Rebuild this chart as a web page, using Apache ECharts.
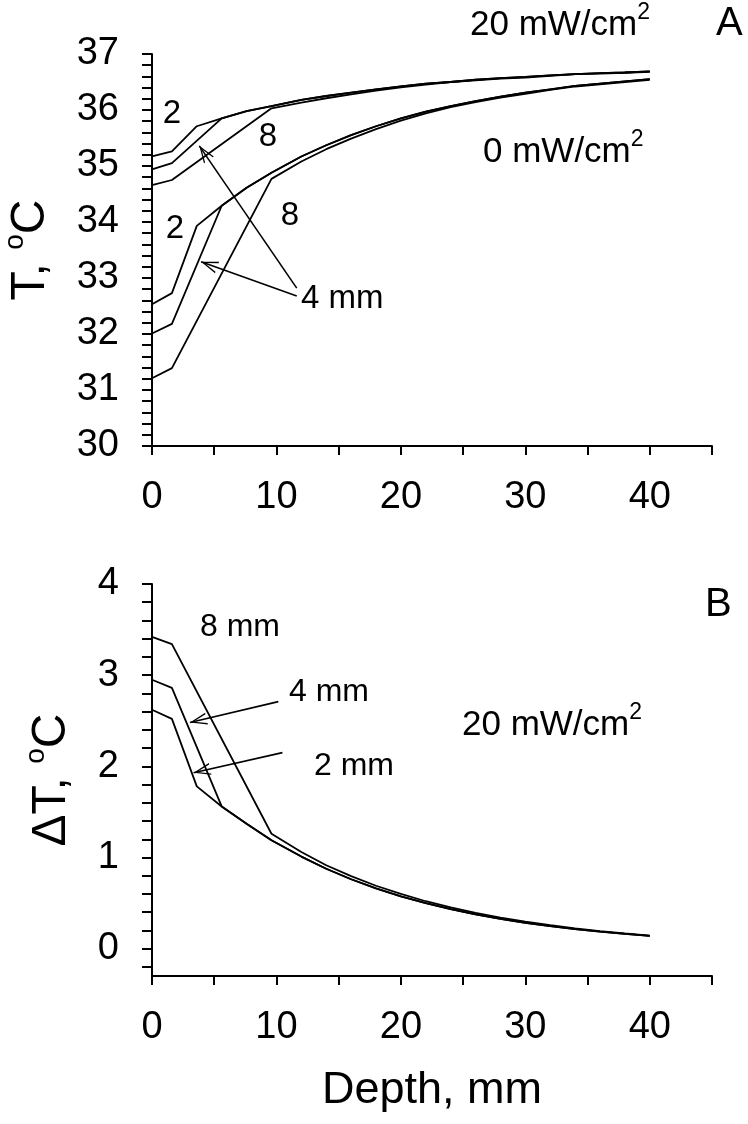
<!DOCTYPE html>
<html><head><meta charset="utf-8">
<script src="https://cdn.jsdelivr.net/npm/echarts@6/dist/echarts.min.js"></script>
<style>html,body{margin:0;padding:0;background:#fff}#c{width:748px;height:1124px}</style>
</head><body><div id="c"></div>
<script>
// depth grids (mm) for each fat-layer thickness
const depth2 = [0, 1.6, 3.6, 5.6, 7.6, 9.6, 12, 14, 16, 18, 20, 22, 24, 26, 28, 30, 32, 34, 36, 38, 40];
const depth4 = [0, 1.6, 5.6, 7.6, 9.6, 12, 14, 16, 18, 20, 22, 24, 26, 28, 30, 32, 34, 36, 38, 40];
const depth8 = [0, 1.6, 9.6, 12, 14, 16, 18, 20, 22, 24, 26, 28, 30, 32, 34, 36, 38, 40];

// Panel A: temperature, 0 mW/cm2
const t0_2mm = [32.53, 32.73, 33.93, 34.29, 34.61, 34.88, 35.17, 35.37, 35.55, 35.71, 35.85, 35.97, 36.07, 36.16, 36.24, 36.31, 36.37, 36.43, 36.47, 36.51, 36.55];
const t0_4mm = [32.01, 32.18, 34.29, 34.61, 34.88, 35.17, 35.37, 35.55, 35.71, 35.85, 35.97, 36.07, 36.16, 36.24, 36.31, 36.37, 36.43, 36.47, 36.51, 36.55];
const t0_8mm = [31.21, 31.39, 34.77, 35.08, 35.30, 35.49, 35.66, 35.81, 35.94, 36.05, 36.14, 36.22, 36.29, 36.36, 36.42, 36.46, 36.50, 36.54];
// Panel A: temperature, 20 mW/cm2
const t20_2mm = [35.17, 35.26, 35.71, 35.85, 35.98, 36.07, 36.18, 36.25, 36.31, 36.37, 36.42, 36.47, 36.50, 36.54, 36.57, 36.59, 36.62, 36.64, 36.66, 36.67, 36.69];
const t20_4mm = [34.94, 35.05, 35.85, 35.98, 36.07, 36.18, 36.25, 36.31, 36.37, 36.42, 36.47, 36.50, 36.54, 36.57, 36.59, 36.62, 36.64, 36.66, 36.67, 36.69];
const t20_8mm = [34.66, 34.75, 36.03, 36.13, 36.21, 36.28, 36.345, 36.405, 36.455, 36.50, 36.53, 36.56, 36.58, 36.61, 36.64, 36.65, 36.665, 36.68];
// Panel B: temperature rise
const dT_2mm = [2.62, 2.52, 1.78, 1.56, 1.37, 1.19, 1.01, 0.876, 0.761, 0.661, 0.574, 0.499, 0.433, 0.376, 0.327, 0.284, 0.247, 0.214, 0.186, 0.162, 0.14];
const dT_4mm = [2.95, 2.86, 1.56, 1.37, 1.19, 1.01, 0.876, 0.761, 0.661, 0.574, 0.499, 0.433, 0.376, 0.327, 0.284, 0.247, 0.214, 0.186, 0.162, 0.14];
const dT_8mm = [3.42, 3.34, 1.26, 1.06, 0.915, 0.795, 0.69, 0.60, 0.52, 0.452, 0.392, 0.34, 0.295, 0.257, 0.222, 0.193, 0.167, 0.144];

// tick labels
const xLabels = [0, 10, 20, 30, 40];
const xTicks = [0, 5, 10, 15, 20, 25, 30, 35, 40, 45];
const yLabelsA = [30, 31, 32, 33, 34, 35, 36, 37];
const yLabelsB = [0, 1, 2, 3, 4];

const FONT = 'Liberation Sans, Arial, Helvetica, sans-serif';
const ARROW = 'path://M6,0L12,16L10.6,16L6,3.4L1.4,16L0,16Z';

function zip(xs, ys) { return xs.map((x, i) => [x, ys[i]]); }
function minor(lo, hi, step) { const a = []; for (let v = lo; v <= hi + 1e-9; v += step) a.push(Math.round(v * 100) / 100); return a; }

function xAxis(gridIndex, withName) {
  return {
    type: 'value', gridIndex, min: 0, max: 45,
    axisLine: { show: true, onZero: false, lineStyle: { color: '#000', width: 2 } },
    axisTick: { show: true, length: 9, customValues: xTicks, lineStyle: { color: '#000', width: 2 } },
    axisLabel: { customValues: xLabels, fontSize: 38, color: '#000', fontFamily: FONT, margin: 33 },
    splitLine: { show: false },
    name: withName ? 'Depth, mm' : '', nameLocation: 'middle', nameGap: 92,
    nameTextStyle: { fontSize: 45, color: '#000', fontFamily: FONT }
  };
}
function yAxis(gridIndex, min, max, labels, name, gap) {
  return {
    type: 'value', gridIndex, min, max,
    axisLine: { show: true, onZero: false, lineStyle: { color: '#000', width: 2 } },
    axisTick: { show: true, length: 10, customValues: minor(min < 0 ? -0.2 : min, max, 0.2), lineStyle: { color: '#000', width: 2 } },
    axisLabel: { customValues: labels, fontSize: 38, color: '#000', fontFamily: FONT, margin: 33 },
    splitLine: { show: false },
    name, nameLocation: 'middle', nameRotate: 90, nameGap: gap,
    nameTextStyle: { fontSize: 48, color: '#000', fontFamily: FONT, lineHeight: 60,
      rich: { sup: { fontSize: 28, fontFamily: FONT, color: '#000', verticalAlign: 'top', lineHeight: 30 } } }
  };
}
function line(name, xs, ys, gi, extra) {
  return Object.assign({
    name, type: 'line', xAxisIndex: gi, yAxisIndex: gi, data: zip(xs, ys),
    showSymbol: false, symbol: 'none', smooth: false,
    lineStyle: { color: '#000', width: 1.8 }, emphasis: { disabled: true }, silent: true
  }, extra || {});
}
function arrows(pairs) {
  return {
    silent: true, animation: false, label: { show: false },
    lineStyle: { color: '#000', width: 1.6, type: 'solid' }, emphasis: { disabled: true },
    data: pairs.map(p => [
      { coord: p[0], symbol: 'none' },
      { coord: p[1], symbol: ARROW, symbolSize: [12, 17], symbolOffset: [0, 8.5] }
    ])
  };
}
function txt(x, y, text, size, align) {
  return {
    type: 'text', x, y, silent: true,
    style: {
      text, fontSize: size, fontFamily: FONT, fill: '#000', align: align || 'left', verticalAlign: 'middle',
      lineHeight: Math.round(size * 1.35),
      rich: { sup: { fontSize: Math.round(size * 0.65), fontFamily: FONT, fill: '#000', verticalAlign: 'top', lineHeight: Math.round(size * 0.7) } }
    }
  };
}

const chart = echarts.init(document.getElementById('c'), null, { renderer: 'canvas' });
chart.setOption({
  animation: false,
  backgroundColor: '#fff',
  grid: [
    { left: 152, top: 54, width: 560, height: 392, outerBoundsMode: 'none', containLabel: false },
    { left: 152, top: 584, width: 560, height: 392, outerBoundsMode: 'none', containLabel: false }
  ],
  xAxis: [xAxis(0, false), xAxis(1, true)],
  yAxis: [
    yAxis(0, 30, 37, yLabelsA, 'T, {sup|o}C', 91),
    yAxis(1, -0.3, 4, yLabelsB, 'ΔT, {sup|o}C', 70)
  ],
  series: [
    line('0mW 2mm', depth2, t0_2mm, 0, { markLine: arrows([[[11.63, 32.82], [3.80, 35.36]], [[11.63, 32.68], [3.94, 33.29]]]) }),
    line('0mW 4mm', depth4, t0_4mm, 0),
    line('0mW 8mm', depth8, t0_8mm, 0),
    line('20mW 2mm', depth2, t20_2mm, 0),
    line('20mW 4mm', depth4, t20_4mm, 0),
    line('20mW 8mm', depth8, t20_8mm, 0),
    line('dT 2mm', depth2, dT_2mm, 1, { markLine: arrows([[[10.15, 2.71], [3.05, 2.48]], [[10.48, 2.15], [3.34, 1.93]]]) }),
    line('dT 4mm', depth4, dT_4mm, 1),
    line('dT 8mm', depth8, dT_8mm, 1)
  ],
  graphic: [
    txt(470, 25, '20 mW/cm{sup|2}', 35),
    txt(716, 24, 'A', 40),
    txt(483, 152, '0 mW/cm{sup|2}', 35),
    txt(172, 114, '2', 33, 'center'),
    txt(268, 137, '8', 33, 'center'),
    txt(175, 229, '2', 33, 'center'),
    txt(290, 216, '8', 33, 'center'),
    txt(301, 299, '4 mm', 33),
    txt(705, 605, 'B', 40),
    txt(200, 627, '8 mm', 32),
    txt(289, 692, '4 mm', 32),
    txt(462, 725, '20 mW/cm{sup|2}', 35),
    txt(314, 766, '2 mm', 32)
  ]
});
</script></body></html>
